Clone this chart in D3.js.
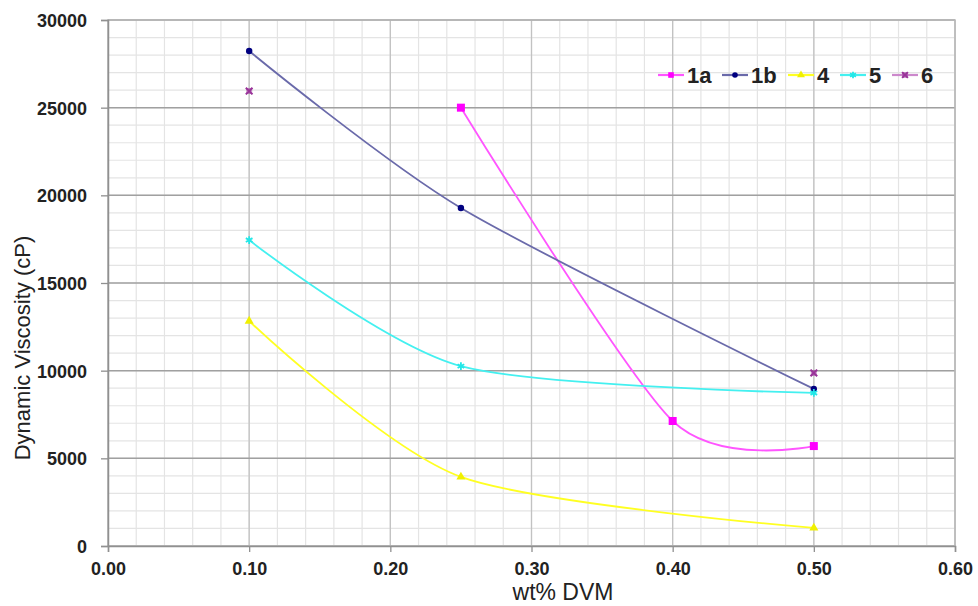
<!DOCTYPE html>
<html><head><meta charset="utf-8">
<script src="https://cdn.jsdelivr.net/npm/d3@7"></script>
<style>body{margin:0;background:#fff}svg{display:block}</style>
</head><body>
<svg id="c" width="978" height="606"></svg>
<script>
const seriesNames = ["1a","1b","4","5","6"];
const x1a = [0.25,0.40,0.50], y1a = [25000,7130,5700];
const x1b = [0.10,0.25,0.50], y1b = [28230,19280,8960];
const x4  = [0.10,0.25,0.50], y4  = [12830,3940,1030];
const x5  = [0.10,0.25,0.50], y5  = [17450,10260,8730];
const x6  = [0.10,0.50],      y6  = [25950,9870];
const xTicks = [0,0.1,0.2,0.3,0.4,0.5,0.6];
const yTicks = [0,5000,10000,15000,20000,25000,30000];

const series = [
  {name:"1a", xs:x1a, ys:y1a, line:"#ff55ff", mark:"#ff00ff", shape:"square", drawLine:true},
  {name:"1b", xs:x1b, ys:y1b, line:"#6a6aaa", mark:"#000080", shape:"circle", drawLine:true},
  {name:"4",  xs:x4,  ys:y4,  line:"#ffff22", mark:"#f0f000", shape:"triangle", drawLine:true},
  {name:"5",  xs:x5,  ys:y5,  line:"#44f0f0", mark:"#22e8e8", shape:"star", drawLine:true},
  {name:"6",  xs:x6,  ys:y6,  line:"#cc88cc", mark:"#993399", shape:"x", drawLine:false}
];

const FONT = "Liberation Sans, Arial, sans-serif";
const svg = d3.select("#c");
const L=108, R=955, T=20, B=546;
const x = d3.scaleLinear().domain([0,0.6]).range([L,R]);
const y = d3.scaleLinear().domain([0,30000]).range([B,T]);

const g = svg.append("g");
g.selectAll(".vminor").data(d3.range(0,31).map(i=>i*0.02)).enter().append("line")
  .attr("x1",d=>x(d)).attr("x2",d=>x(d)).attr("y1",T).attr("y2",B)
  .attr("stroke","#e4e4e4").attr("stroke-width",1.2);
g.selectAll(".hminor").data(d3.range(0,31).map(i=>i*1000)).enter().append("line")
  .attr("y1",d=>y(d)).attr("y2",d=>y(d)).attr("x1",L).attr("x2",R)
  .attr("stroke","#e4e4e4").attr("stroke-width",1.2);
g.selectAll(".vmajor").data(xTicks).enter().append("line")
  .attr("x1",d=>x(d)).attr("x2",d=>x(d)).attr("y1",T).attr("y2",B)
  .attr("stroke","#c2c2c2").attr("stroke-width",1.3);
g.selectAll(".hmajor").data(yTicks).enter().append("line")
  .attr("y1",d=>y(d)).attr("y2",d=>y(d)).attr("x1",L).attr("x2",R)
  .attr("stroke","#a0a0a0").attr("stroke-width",1.5);
g.append("rect").attr("x",L).attr("y",T).attr("width",R-L).attr("height",B-T)
  .attr("fill","none").attr("stroke","#b8b8b8").attr("stroke-width",1.5);

const xa = svg.append("g").attr("transform",`translate(0,${B})`)
  .call(d3.axisBottom(x).tickValues(xTicks).tickFormat(d3.format(".2f")).tickSize(6).tickPadding(10));
const ya = svg.append("g").attr("transform",`translate(${L},0)`)
  .call(d3.axisLeft(y).tickValues(yTicks).tickFormat(d=>String(d)).tickSize(7).tickPadding(14));
[xa,ya].forEach(a=>{
  a.select(".domain").attr("stroke","#909090").attr("stroke-width",1.5);
  a.selectAll(".tick line").attr("stroke","#909090").attr("stroke-width",1.3);
  a.selectAll("text").attr("font-family",FONT)
   .attr("font-size",18).attr("font-weight","bold").attr("fill","#222");
});
ya.selectAll("text").attr("dy","0.36em");

svg.append("text").attr("x",563).attr("y",600)
  .attr("text-anchor","middle").attr("font-family",FONT)
  .attr("font-size",23).attr("fill","#222").text("wt% DVM");
svg.append("text").attr("transform","translate(30,348) rotate(-90)")
  .attr("text-anchor","middle").attr("font-family",FONT)
  .attr("font-size",22).attr("fill","#222").text("Dynamic Viscosity (cP)");

function marker(sel, s, cx, cy, sz){
  if(s.shape==="square"){
    sel.append("rect").attr("x",cx-sz).attr("y",cy-sz).attr("width",2*sz).attr("height",2*sz).attr("fill",s.mark);
  } else if(s.shape==="circle"){
    sel.append("circle").attr("cx",cx).attr("cy",cy).attr("r",sz).attr("fill",s.mark);
  } else if(s.shape==="triangle"){
    sel.append("path").attr("d",d3.symbol(d3.symbolTriangle,sz*sz*3.5)()).attr("transform",`translate(${cx},${cy})`).attr("fill",s.mark);
  } else if(s.shape==="star"){
    sel.append("path").attr("d",d3.symbol(d3.symbolAsterisk,sz*sz*4)()).attr("transform",`translate(${cx},${cy})`).attr("stroke",s.mark).attr("stroke-width",1.8);
  } else {
    sel.append("path").attr("d",d3.symbol(d3.symbolX,sz*sz*3)()).attr("transform",`translate(${cx},${cy})`).attr("stroke",s.mark).attr("stroke-width",2);
    sel.append("rect").attr("x",cx-3).attr("y",cy-3).attr("width",6).attr("height",6).attr("fill",s.mark).attr("opacity",0.5);
  }
}

const line = d3.line().x(d=>x(d[0])).y(d=>y(d[1])).curve(d3.curveCardinal.tension(0.2));
series.forEach(s=>{
  const pts = s.xs.map((v,i)=>[v,s.ys[i]]);
  if(s.drawLine){
    svg.append("path").datum(pts).attr("d",line).attr("fill","none")
      .attr("stroke",s.line).attr("stroke-width",1.8);
  }
});
series.forEach(s=>{
  const pts = s.xs.map((v,i)=>[v,s.ys[i]]);
  const sz = s.shape==="square"?4:3.2;
  pts.forEach(p=>marker(svg, s, x(p[0]), y(p[1]), sz));
});

const legX = [658,722,788,840,892];
const lg = svg.append("g");
series.forEach((s,i)=>{
  const x0 = legX[i], cy = 75;
  lg.append("line").attr("x1",x0).attr("x2",x0+26).attr("y1",cy).attr("y2",cy)
    .attr("stroke",s.line).attr("stroke-width",2.2);
  marker(lg, s, x0+13, cy, 2.8);
  lg.append("text").attr("x",x0+29).attr("y",cy).attr("dy","0.36em")
    .attr("font-family",FONT).attr("font-size",22)
    .attr("font-weight","bold").attr("fill","#222").text(seriesNames[i]);
});
</script>
</body></html>
